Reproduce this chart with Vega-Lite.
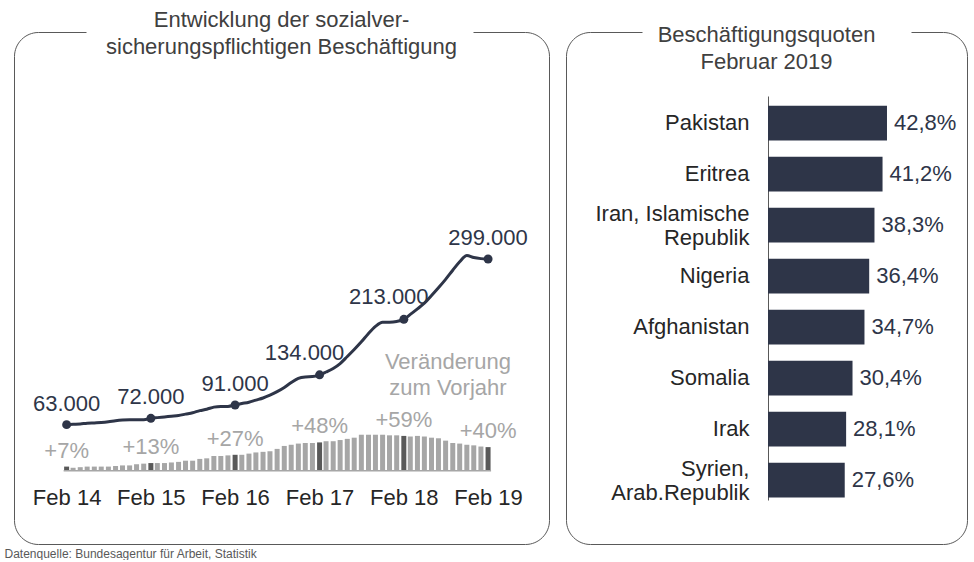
{
  "$schema": "https://vega.github.io/schema/vega-lite/v6.json",
  "padding": {"left": 4, "top": 8, "right": 0, "bottom": 0},
  "autosize": {"type": "pad"},
  "background": "white",
  "config": {
    "font": "Liberation Sans",
    "locale": {"number": {"decimal": ",", "thousands": ".", "grouping": [3], "currency": ["", " €"]}},
    "view": {"stroke": null},
    "axis": {"grid": false, "domain": false, "ticks": false, "tickSize": 0, "labelFontSize": 22, "labelFont": "Liberation Sans"},
    "title": {"font": "Liberation Sans", "fontSize": 22, "fontWeight": "normal", "color": "#404040", "lineHeight": 27}
  },
  "title": {"text": "Datenquelle: Bundesagentur für Arbeit, Statistik", "orient": "bottom", "anchor": "start", "fontSize": 12, "color": "#595959", "lineHeight": 13, "offset": 4, "dx": -9, "baseline": "top"},
  "datasets": {
    "employment": [
      {"date": "2014-02-01", "employed": 63000, "change": 0.07},
      {"date": "2014-03-01", "employed": 63500, "change": 0.05},
      {"date": "2014-04-01", "employed": 64000, "change": 0.06},
      {"date": "2014-05-01", "employed": 65000, "change": 0.07},
      {"date": "2014-06-01", "employed": 65500, "change": 0.07},
      {"date": "2014-07-01", "employed": 66000, "change": 0.07},
      {"date": "2014-08-01", "employed": 67000, "change": 0.07},
      {"date": "2014-09-01", "employed": 68500, "change": 0.08},
      {"date": "2014-10-01", "employed": 69500, "change": 0.09},
      {"date": "2014-11-01", "employed": 70000, "change": 0.09},
      {"date": "2014-12-01", "employed": 70000, "change": 0.11},
      {"date": "2015-01-01", "employed": 70000, "change": 0.12},
      {"date": "2015-02-01", "employed": 72000, "change": 0.13},
      {"date": "2015-03-01", "employed": 73000, "change": 0.13},
      {"date": "2015-04-01", "employed": 74000, "change": 0.13},
      {"date": "2015-05-01", "employed": 75000, "change": 0.14},
      {"date": "2015-06-01", "employed": 76000, "change": 0.15},
      {"date": "2015-07-01", "employed": 78000, "change": 0.17},
      {"date": "2015-08-01", "employed": 80000, "change": 0.17},
      {"date": "2015-09-01", "employed": 83000, "change": 0.20},
      {"date": "2015-10-01", "employed": 85000, "change": 0.21},
      {"date": "2015-11-01", "employed": 88000, "change": 0.25},
      {"date": "2015-12-01", "employed": 89000, "change": 0.25},
      {"date": "2016-01-01", "employed": 89000, "change": 0.26},
      {"date": "2016-02-01", "employed": 91000, "change": 0.27},
      {"date": "2016-03-01", "employed": 93000, "change": 0.27},
      {"date": "2016-04-01", "employed": 95000, "change": 0.29},
      {"date": "2016-05-01", "employed": 98000, "change": 0.31},
      {"date": "2016-06-01", "employed": 101000, "change": 0.32},
      {"date": "2016-07-01", "employed": 105000, "change": 0.33},
      {"date": "2016-08-01", "employed": 110000, "change": 0.37},
      {"date": "2016-09-01", "employed": 116000, "change": 0.42},
      {"date": "2016-10-01", "employed": 123000, "change": 0.44},
      {"date": "2016-11-01", "employed": 129000, "change": 0.46},
      {"date": "2016-12-01", "employed": 131000, "change": 0.47},
      {"date": "2017-01-01", "employed": 131500, "change": 0.47},
      {"date": "2017-02-01", "employed": 134000, "change": 0.48},
      {"date": "2017-03-01", "employed": 138000, "change": 0.50},
      {"date": "2017-04-01", "employed": 143000, "change": 0.50},
      {"date": "2017-05-01", "employed": 150000, "change": 0.52},
      {"date": "2017-06-01", "employed": 160000, "change": 0.54},
      {"date": "2017-07-01", "employed": 170000, "change": 0.56},
      {"date": "2017-08-01", "employed": 181000, "change": 0.61},
      {"date": "2017-09-01", "employed": 193000, "change": 0.61},
      {"date": "2017-10-01", "employed": 203000, "change": 0.61},
      {"date": "2017-11-01", "employed": 209000, "change": 0.61},
      {"date": "2017-12-01", "employed": 209000, "change": 0.60},
      {"date": "2018-01-01", "employed": 210000, "change": 0.60},
      {"date": "2018-02-01", "employed": 213000, "change": 0.59},
      {"date": "2018-03-01", "employed": 220000, "change": 0.58},
      {"date": "2018-04-01", "employed": 228000, "change": 0.59},
      {"date": "2018-05-01", "employed": 236000, "change": 0.58},
      {"date": "2018-06-01", "employed": 247000, "change": 0.56},
      {"date": "2018-07-01", "employed": 258000, "change": 0.55},
      {"date": "2018-08-01", "employed": 270000, "change": 0.51},
      {"date": "2018-09-01", "employed": 283000, "change": 0.47},
      {"date": "2018-10-01", "employed": 295000, "change": 0.46},
      {"date": "2018-11-01", "employed": 304000, "change": 0.44},
      {"date": "2018-12-01", "employed": 301000, "change": 0.43},
      {"date": "2019-01-01", "employed": 299500, "change": 0.41},
      {"date": "2019-02-01", "employed": 299000, "change": 0.40}
    ],
    "rates": [
      {"country": "Pakistan", "rate": 0.428},
      {"country": "Eritrea", "rate": 0.412},
      {"country": "Iran, Islamische Republik", "rate": 0.383},
      {"country": "Nigeria", "rate": 0.364},
      {"country": "Afghanistan", "rate": 0.347},
      {"country": "Somalia", "rate": 0.304},
      {"country": "Irak", "rate": 0.281},
      {"country": "Syrien, Arab.Republik", "rate": 0.276}
    ]
  },
  "hconcat": [
    {
      "width": 535,
      "height": 512,
      "view": {"stroke": "#595959", "strokeWidth": 1, "cornerRadius": 24, "strokeDash": [48, 387, 5000], "fill": "white"},
      "title": {"text": ["Entwicklung der sozialver-", "sicherungspflichtigen Beschäftigung"], "baseline": "middle", "offset": -37, "frame": "group", "anchor": "middle"},
      "data": {"name": "employment", "format": {"parse": {"date": "date"}}},
      "encoding": {
        "x": {
          "field": "date", "type": "temporal",
          "scale": {"type": "utc", "nice": false, "padding": 0, "domain": [{"year": 2013, "month": 6, "date": 18, "utc": true}, {"year": 2019, "month": 10, "date": 23, "utc": true}]},
          "axis": {
            "orient": "bottom", "offset": -47, "title": null,
            "values": [
              {"year": 2014, "month": 2, "date": 1, "utc": true},
              {"year": 2015, "month": 2, "date": 1, "utc": true},
              {"year": 2016, "month": 2, "date": 1, "utc": true},
              {"year": 2017, "month": 2, "date": 1, "utc": true},
              {"year": 2018, "month": 2, "date": 1, "utc": true},
              {"year": 2019, "month": 2, "date": 1, "utc": true}
            ],
            "labelExpr": "'Feb ' + utcFormat(datum.value, '%y')",
            "labelBaseline": "middle", "labelPadding": 0, "labelColor": "#262626", "labelFontSize": 22,
            "labelFlush": false, "labelOverlap": false
          }
        }
      },
      "layer": [
        {
          "layer": [
            {
              "mark": {"type": "bar", "size": 5},
              "encoding": {
                "y": {"field": "change", "type": "quantitative", "scale": {"domain": [-1.242, 7.436], "nice": false, "zero": false}, "axis": null},
                "color": {"condition": {"test": "utcmonth(datum.date) === 1", "value": "#595959"}, "value": "#a6a6a6"}
              }
            },
            {
              "data": {"values": [{"start": "2014-01-19", "end": "2019-02-14"}], "format": {"parse": {"start": "date", "end": "date"}}},
              "mark": {"type": "rule", "color": "#a6a6a6", "strokeWidth": 1.5},
              "encoding": {
                "x": {"field": "start", "type": "temporal"},
                "x2": {"field": "end"},
                "y": {"datum": 0}
              }
            },
            {
              "transform": [{"filter": "utcmonth(datum.date) === 1"}],
              "mark": {"type": "text", "fontSize": 22, "color": "#a6a6a6", "baseline": "middle", "dy": -16},
              "encoding": {
                "y": {"field": "change", "type": "quantitative"},
                "text": {"field": "change", "type": "quantitative", "format": "+.0%"}
              }
            }
          ]
        },
        {
          "layer": [
            {
              "mark": {"type": "line", "color": "#2e3548", "strokeWidth": 3, "interpolate": "monotone"},
              "encoding": {"y": {"field": "employed", "type": "quantitative", "scale": {"domain": [-107000, 622300], "nice": false, "zero": false}, "axis": null}}
            },
            {
              "transform": [{"filter": "utcmonth(datum.date) === 1"}],
              "mark": {"type": "circle", "size": 80, "color": "#2e3548", "opacity": 1},
              "encoding": {"y": {"field": "employed", "type": "quantitative"}}
            },
            {
              "transform": [{"filter": "utcmonth(datum.date) === 1 && utcyear(datum.date) !== 2017 && utcyear(datum.date) !== 2018"}],
              "mark": {"type": "text", "fontSize": 22, "color": "#2e3548", "baseline": "middle", "dy": -21},
              "encoding": {
                "y": {"field": "employed", "type": "quantitative"},
                "text": {"field": "employed", "type": "quantitative", "format": ",.0f"}
              }
            },
            {
              "transform": [{"filter": "utcmonth(datum.date) === 1 && (utcyear(datum.date) === 2017 || utcyear(datum.date) === 2018)"}],
              "mark": {"type": "text", "fontSize": 22, "color": "#2e3548", "baseline": "middle", "dy": -22, "dx": -15},
              "encoding": {
                "y": {"field": "employed", "type": "quantitative"},
                "text": {"field": "employed", "type": "quantitative", "format": ",.0f"}
              }
            }
          ]
        },
        {
          "data": {"values": [{"date": "2018-08-11", "level": 152000, "line1": "Veränderung", "line2": "zum Vorjahr"}], "format": {"parse": {"date": "date"}}},
          "layer": [
            {
              "mark": {"type": "text", "fontSize": 22, "color": "#a6a6a6", "baseline": "middle"},
              "encoding": {
                "x": {"field": "date", "type": "temporal"},
                "y": {"field": "level", "type": "quantitative", "scale": {"domain": [-107000, 622300], "nice": false, "zero": false}, "axis": null},
                "text": {"field": "line1", "type": "nominal"}
              }
            },
            {
              "mark": {"type": "text", "fontSize": 22, "color": "#a6a6a6", "baseline": "middle", "dy": 26},
              "encoding": {
                "x": {"field": "date", "type": "temporal"},
                "y": {"field": "level", "type": "quantitative"},
                "text": {"field": "line2", "type": "nominal"}
              }
            }
          ]
        }
      ],
      "resolve": {"scale": {"y": "independent"}}
    },
    {
      "width": 401,
      "height": 512,
      "view": {"stroke": "#595959", "strokeWidth": 1, "cornerRadius": 24, "strokeDash": [52, 269, 5000], "fill": "white"},
      "title": {"text": ["Beschäftigungsquoten", "Februar 2019"], "baseline": "middle", "offset": -52, "frame": "group", "anchor": "middle"},
      "data": {"name": "rates"},
      "encoding": {
        "y": {
          "field": "country", "type": "nominal", "sort": null,
          "scale": {"range": [64, 468], "paddingInner": 0.32, "paddingOuter": 0.121, "align": 0.79},
          "axis": {
            "orient": "left", "offset": -202, "title": null,
            "domain": true, "domainColor": "#595959", "domainWidth": 1,
            "labelPadding": 19, "labelColor": "#262626", "labelFontSize": 22, "labelLineHeight": 24, "labelLimit": 300,
            "labelOffset": {"condition": {"test": "datum.value === 'Iran, Islamische Republik' || datum.value === 'Syrien, Arab.Republik'", "value": -11}, "value": 0},
            "labelExpr": "datum.label === 'Iran, Islamische Republik' ? ['Iran, Islamische', 'Republik'] : datum.label === 'Syrien, Arab.Republik' ? ['Syrien,', 'Arab.Republik'] : datum.label"
          }
        },
        "x": {"field": "rate", "type": "quantitative", "scale": {"domain": [-0.7266, 0.7158], "nice": false, "zero": false}, "axis": null}
      },
      "layer": [
        {"mark": {"type": "bar", "color": "#2e3548"}},
        {
          "mark": {"type": "text", "align": "left", "dx": 7, "baseline": "middle", "fontSize": 22, "color": "#2e3548"},
          "encoding": {"text": {"field": "rate", "type": "quantitative", "format": ".1%"}}
        }
      ]
    }
  ],
  "spacing": 15
}
